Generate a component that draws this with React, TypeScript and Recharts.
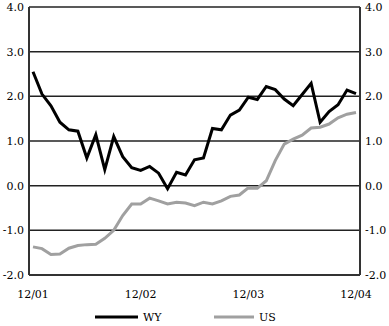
import React from "react";
import {
  LineChart,
  Line,
  XAxis,
  YAxis,
  CartesianGrid,
  Legend,
} from "recharts";

// monthly, Dec 2001 .. Dec 2004
const months = [
  "12/01", "1/02", "2/02", "3/02", "4/02", "5/02", "6/02", "7/02", "8/02", "9/02", "10/02", "11/02",
  "12/02", "1/03", "2/03", "3/03", "4/03", "5/03", "6/03", "7/03", "8/03", "9/03", "10/03", "11/03",
  "12/03", "1/04", "2/04", "3/04", "4/04", "5/04", "6/04", "7/04", "8/04", "9/04", "10/04", "11/04",
  "12/04",
];

const wyValues = [
  2.55, 2.05, 1.79, 1.42, 1.25, 1.22, 0.62, 1.14, 0.36, 1.1, 0.65, 0.4,
  0.34, 0.43, 0.28, -0.07, 0.3, 0.24, 0.58, 0.62, 1.28, 1.25, 1.58, 1.69,
  1.98, 1.93, 2.22, 2.15, 1.94, 1.79, 2.04, 2.29, 1.42, 1.66, 1.81, 2.14,
  2.06,
];

const usValues = [
  -1.37, -1.41, -1.54, -1.53, -1.4, -1.34, -1.32, -1.31, -1.18, -1.0, -0.67, -0.41,
  -0.41, -0.28, -0.34, -0.41, -0.37, -0.39, -0.45, -0.37, -0.41, -0.34, -0.24, -0.21,
  -0.05, -0.06, 0.11, 0.56, 0.93, 1.04, 1.13, 1.29, 1.31, 1.38, 1.52, 1.6,
  1.64,
];

const yTicks = [-2, -1, 0, 1, 2, 3, 4];

const data = months.map((m, i) => ({ month: m, wy: wyValues[i], us: usValues[i] }));

const FONT = "'DejaVu Serif', serif";
const tickStyle = { fontSize: 11, fill: "#000", fontFamily: FONT };

function LegendContent() {
  const items = [
    { name: "WY", color: "#000", len: 43, width: 119 },
    { name: "US", color: "#a0a0a0", len: 40, width: 70 },
  ];
  return (
    <div style={{ display: "flex", paddingLeft: 95, height: 16, alignItems: "center" }}>
      {items.map((it) => (
        <div key={it.name} style={{ display: "flex", alignItems: "center", width: it.width }}>
          <svg width={it.len} height={6}>
            <line x1={0} y1={3} x2={it.len} y2={3} stroke={it.color} strokeWidth={3} />
          </svg>
          <span style={{ fontFamily: FONT, fontSize: 11, marginLeft: 5, color: "#000" }}>{it.name}</span>
        </div>
      ))}
    </div>
  );
}

export default function App() {
  return (
    <div style={{ position: "absolute", left: 0, top: 0 }}>
      <LineChart
        width={389}
        height={326}
        data={data}
        margin={{ top: 7, right: 0, left: 0, bottom: 1 }}
      >
        <CartesianGrid
          yAxisId="left"
          vertical={false}
          stroke="#222"
          strokeWidth={1.5}
        />
        <XAxis
          dataKey="month"
          interval={11}
          tick={tickStyle}
          tickLine={false}
          tickSize={0}
          tickMargin={15}
          height={34}
          padding={{ left: 4, right: 4 }}
          axisLine={{ stroke: "#333", strokeWidth: 2 }}
        />
        <YAxis
          yAxisId="left"
          domain={[-2, 4]}
          ticks={yTicks}
          tickFormatter={(v: number) => v.toFixed(1)}
          tick={tickStyle}
          tickLine={false}
          tickSize={0}
          tickMargin={5}
          width={29}
          axisLine={{ stroke: "#333", strokeWidth: 2 }}
        />
        <YAxis
          yAxisId="right"
          orientation="right"
          domain={[-2, 4]}
          ticks={yTicks}
          tickFormatter={(v: number) => v.toFixed(1)}
          tick={tickStyle}
          tickLine={false}
          tickSize={0}
          tickMargin={5}
          width={29}
          axisLine={{ stroke: "#333", strokeWidth: 2 }}
        />
        <Legend verticalAlign="bottom" content={<LegendContent />} />
        {/* invisible series so the right axis gets drawn */}
        <Line
          yAxisId="right"
          dataKey="wy"
          stroke="none"
          dot={false}
          activeDot={false}
          legendType="none"
          isAnimationActive={false}
        />
        <Line
          yAxisId="left"
          type="linear"
          dataKey="us"
          name="US"
          stroke="#a0a0a0"
          strokeWidth={3}
          dot={false}
          isAnimationActive={false}
        />
        <Line
          yAxisId="left"
          type="linear"
          dataKey="wy"
          name="WY"
          stroke="#000"
          strokeWidth={3}
          dot={false}
          isAnimationActive={false}
        />
      </LineChart>
    </div>
  );
}
